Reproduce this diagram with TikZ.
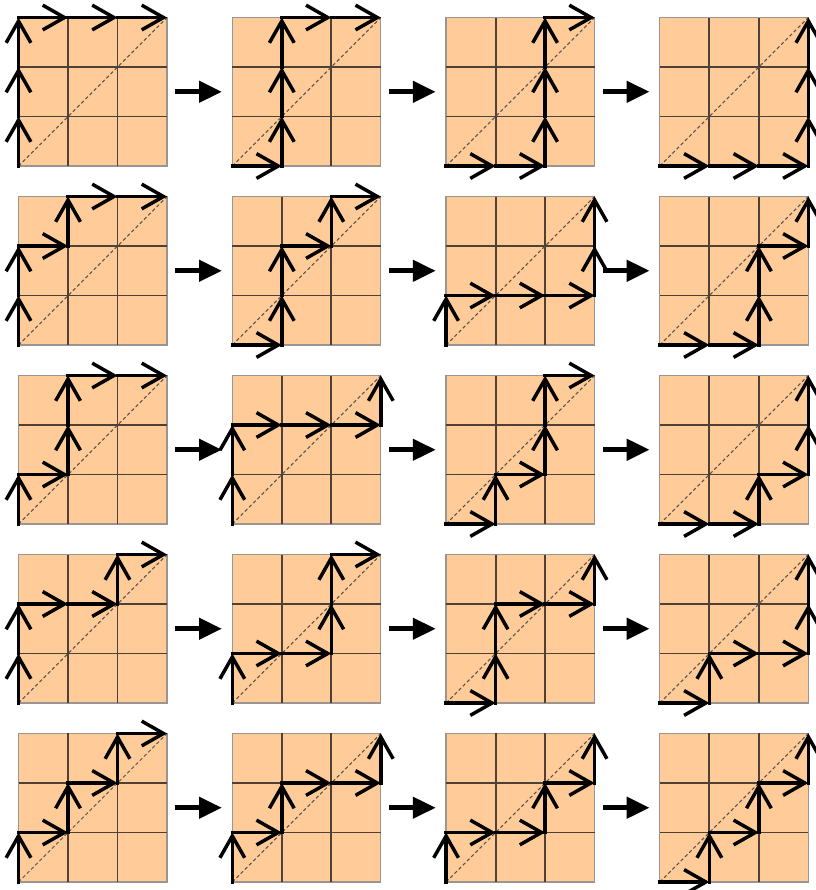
\documentclass[tikz,border=0pt]{standalone}
\usepackage{tikz}
\usetikzlibrary{arrows.meta,positioning}
\definecolor{Peach}{HTML}{FFCC99}
\definecolor{CellLine}{HTML}{4E4034}
\definecolor{Frame}{HTML}{9A9590}
\definecolor{Diag}{HTML}{5A5048}
\tikzset{
  gridbox/.style={draw=Frame,line width=0.7pt,fill=Peach,minimum size=3cm,inner sep=0pt,outer sep=0pt},
  cellline/.style={draw=CellLine,line width=1.1pt},
  diagline/.style={draw=Diag,line width=0.6pt,dash pattern=on 2pt off 1.4pt},
  stepline/.style={-{Straight Barb[length=4.4mm,width=5mm]},line width=2pt,line cap=rect,draw=black},
  flowarrow/.style={-{Triangle[length=4.6mm,width=4.2mm]},line width=2.8pt,draw=black,shorten <=1.7mm,shorten >=2.1mm}
}
\newcommand{\latgrid}[4]{%
  \node[gridbox] (#1) at (#2,#3) {};
  \begin{scope}[shift={(#1.south west)}]
    \draw[cellline] (1,0)--(1,3) (2,0)--(2,3) (0,1)--(3,1) (0,2)--(3,2);
    \draw[diagline] (0,0)--(3,3);
    \foreach \x/\y [remember=\x as \px (initially 0),remember=\y as \py (initially 0)] in {#4}
      \draw[stepline] (\px,\py)--(\x,\y);
  \end{scope}}
\begin{document}
\begin{tikzpicture}[x=1cm,y=1cm]
  \useasboundingbox (0,0) rectangle (16.485,-17.98);
  \latgrid{g11}{1.874}{-1.854}{0/1,0/2,0/3,1/3,2/3,3/3}
  \latgrid{g12}{6.193}{-1.854}{1/0,1/1,1/2,1/3,2/3,3/3}
  \latgrid{g13}{10.512}{-1.854}{1/0,2/0,2/1,2/2,2/3,3/3}
  \latgrid{g14}{14.831}{-1.854}{1/0,2/0,3/0,3/1,3/2,3/3}
  \latgrid{g21}{1.874}{-5.470}{0/1,0/2,1/2,1/3,2/3,3/3}
  \latgrid{g22}{6.193}{-5.470}{1/0,1/1,1/2,2/2,2/3,3/3}
  \latgrid{g23}{10.512}{-5.470}{0/1,1/1,2/1,3/1,3/2,3/3}
  \latgrid{g24}{14.831}{-5.470}{1/0,2/0,2/1,2/2,3/2,3/3}
  \latgrid{g31}{1.874}{-9.086}{0/1,1/1,1/2,1/3,2/3,3/3}
  \latgrid{g32}{6.193}{-9.086}{0/1,0/2,1/2,2/2,3/2,3/3}
  \latgrid{g33}{10.512}{-9.086}{1/0,1/1,2/1,2/2,2/3,3/3}
  \latgrid{g34}{14.831}{-9.086}{1/0,2/0,2/1,3/1,3/2,3/3}
  \latgrid{g41}{1.874}{-12.702}{0/1,0/2,1/2,2/2,2/3,3/3}
  \latgrid{g42}{6.193}{-12.702}{0/1,1/1,2/1,2/2,2/3,3/3}
  \latgrid{g43}{10.512}{-12.702}{1/0,1/1,1/2,2/2,3/2,3/3}
  \latgrid{g44}{14.831}{-12.702}{1/0,1/1,2/1,3/1,3/2,3/3}
  \latgrid{g51}{1.874}{-16.318}{0/1,1/1,1/2,2/2,2/3,3/3}
  \latgrid{g52}{6.193}{-16.318}{0/1,1/1,1/2,2/2,3/2,3/3}
  \latgrid{g53}{10.512}{-16.318}{0/1,1/1,2/1,2/2,3/2,3/3}
  \latgrid{g54}{14.831}{-16.318}{1/0,1/1,2/1,2/2,3/2,3/3}
  \foreach \r in {1,...,5}{
    \draw[flowarrow] (g\r1)--(g\r2); \draw[flowarrow] (g\r2)--(g\r3); \draw[flowarrow] (g\r3)--(g\r4);
  }
\end{tikzpicture}
\end{document}
